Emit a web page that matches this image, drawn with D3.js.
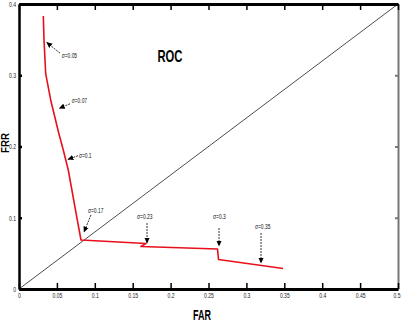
<!DOCTYPE html>
<html>
<head>
<meta charset="utf-8">
<script src="https://cdn.jsdelivr.net/npm/d3@7"></script>
<style>
  body { margin: 0; background: #fff; }
  svg { display: block; }
  text { font-family: "Liberation Sans", Arial, sans-serif; }
</style>
</head>
<body>
<svg id="chart" width="402" height="323"></svg>
<script>
// ROC curve
const farValues = [0.0321, 0.0330, 0.0352, 0.0418, 0.0524, 0.0584, 0.0650, 0.0761, 0.0818, 0.1675, 0.1609, 0.2619, 0.2632, 0.3483];
const frrValues = [0.3832, 0.3495, 0.3022, 0.2653, 0.2189, 0.1951, 0.1670, 0.1015, 0.0688, 0.0639, 0.0596, 0.0561, 0.0414, 0.0288];

// sigma annotations: text anchor and arrow start/end, in data units
const sigmaLabels = ["σ=0.05", "σ=0.07", "σ=0.1", "σ=0.17", "σ=0.23", "σ=0.3", "σ=0.35"];
const labelX = [0.0563, 0.0695, 0.0790, 0.0910, 0.1557, 0.2560, 0.3113];
const labelY = [0.3240, 0.2610, 0.1840, 0.1070, 0.0980, 0.0980, 0.0842];
const arrowX1 = [0.0541, 0.0673, 0.0778, 0.0950, 0.1689, 0.2639, 0.3193];
const arrowY1 = [0.3310, 0.2600, 0.1870, 0.1040, 0.0926, 0.0856, 0.0786];
const arrowX2 = [0.0366, 0.0532, 0.0646, 0.0858, 0.1689, 0.2639, 0.3193];
const arrowY2 = [0.3460, 0.2536, 0.1820, 0.0800, 0.0646, 0.0604, 0.0365];

const xTicks = [0, 0.05, 0.1, 0.15, 0.2, 0.25, 0.3, 0.35, 0.4, 0.45, 0.5];
const xTickLabels = ["0", "0.05", "0.1", "0.15", "0.2", "0.25", "0.3", "0.35", "0.4", "0.45", "0.5"];
const yTicks = [0, 0.1, 0.2, 0.3, 0.4];
const yTickLabels = ["0", "0.1", "0.2", "0.3", "0.4"];

const svg = d3.select("#chart");
const plotLeft = 19, plotRight = 398, plotTop = 4, plotBottom = 289;

const x = d3.scaleLinear().domain([0, 0.5]).range([plotLeft, plotRight]);
const y = d3.scaleLinear().domain([0, 0.4]).range([plotBottom, plotTop]);

// squeeze small labels to look like a narrow font
function narrow(sel, k) {
    sel.each(function () {
        const w = this.getComputedTextLength();
        d3.select(this).attr("textLength", w * k).attr("lengthAdjust", "spacingAndGlyphs");
    });
}

// diagonal reference line
svg.append("line")
    .attr("x1", x(0)).attr("y1", y(0))
    .attr("x2", x(0.5)).attr("y2", y(0.4))
    .attr("stroke", "#000")
    .attr("stroke-width", 0.7);

// right axis (grey)
const rightAxis = svg.append("g")
    .attr("transform", `translate(${plotRight},0)`)
    .call(d3.axisRight(y).tickValues(yTicks).tickSize(-3).tickSizeOuter(0).tickFormat(""));
rightAxis.selectAll("path, line").attr("stroke", "#777").attr("stroke-width", 2);

// top axis
const topAxis = svg.append("g")
    .attr("transform", `translate(0,${plotTop})`)
    .call(d3.axisTop(x).tickValues(xTicks).tickSize(-6).tickSizeOuter(0).tickFormat(""));
topAxis.select(".domain").attr("stroke-width", 3);
topAxis.selectAll(".tick line").attr("stroke-width", 1.5);

// left axis
const leftAxis = svg.append("g")
    .attr("transform", `translate(${plotLeft},0)`)
    .call(d3.axisLeft(y).tickValues(yTicks).tickSize(-3).tickSizeOuter(0).tickPadding(3)
        .tickFormat((d, i) => yTickLabels[i]));
leftAxis.select(".domain").attr("stroke-width", 2.5);
leftAxis.selectAll(".tick line").attr("stroke-width", 2.5);
leftAxis.selectAll(".tick text")
    .attr("font-size", 7).attr("fill", "#222")
    .call(narrow, 0.72);

// bottom axis
const bottomAxis = svg.append("g")
    .attr("transform", `translate(0,${plotBottom})`)
    .call(d3.axisBottom(x).tickValues(xTicks).tickSize(-6).tickSizeOuter(0).tickPadding(4)
        .tickFormat((d, i) => xTickLabels[i]));
bottomAxis.select(".domain").attr("stroke-width", 3);
bottomAxis.selectAll(".tick line").attr("stroke-width", 1.5);
bottomAxis.selectAll(".tick text")
    .attr("font-size", 7).attr("fill", "#222")
    .call(narrow, 0.72);
// last label sits on the window edge
bottomAxis.selectAll(".tick text").filter((d, i) => i === xTicks.length - 1).attr("dx", -1.5);

// ROC curve
const rocPoints = farValues.map((v, i) => [v, frrValues[i]]);
svg.append("path")
    .datum(rocPoints)
    .attr("fill", "none")
    .attr("stroke", "#e8101c")
    .attr("stroke-width", 1.6)
    .attr("stroke-linejoin", "round")
    .attr("d", d3.line().x(d => x(d[0])).y(d => y(d[1])));

// arrow marker
svg.append("defs")
    .append("marker")
    .attr("id", "arrow")
    .attr("viewBox", [0, 0, 10, 10])
    .attr("refX", 9)
    .attr("refY", 5)
    .attr("markerWidth", 6)
    .attr("markerHeight", 6)
    .attr("markerUnits", "userSpaceOnUse")
    .attr("orient", "auto")
    .append("path")
    .attr("d", d3.line()([[0, 0.5], [10, 5], [0, 9.5]]))
    .attr("fill", "#000");

const notes = sigmaLabels.map((t, i) => ({
    text: t, tx: labelX[i], ty: labelY[i],
    x1: arrowX1[i], y1: arrowY1[i], x2: arrowX2[i], y2: arrowY2[i]
}));

const note = svg.append("g").selectAll("g")
    .data(notes)
    .join("g");

note.append("line")
    .attr("x1", d => x(d.x1)).attr("y1", d => y(d.y1))
    .attr("x2", d => x(d.x2)).attr("y2", d => y(d.y2))
    .attr("stroke", "#000")
    .attr("stroke-width", 0.8)
    .attr("stroke-dasharray", "2,1")
    .attr("marker-end", "url(#arrow)");

note.append("text")
    .attr("x", d => x(d.tx))
    .attr("y", d => y(d.ty))
    .attr("font-size", 7)
    .attr("fill", "#111")
    .text(d => d.text)
    .call(narrow, 0.7);

// titles
svg.append("text")
    .attr("x", 170).attr("y", 62)
    .attr("text-anchor", "middle")
    .attr("font-weight", "bold")
    .attr("font-size", 17)
    .attr("textLength", 25)
    .attr("lengthAdjust", "spacingAndGlyphs")
    .text("ROC");

svg.append("text")
    .attr("x", 202).attr("y", 320)
    .attr("text-anchor", "middle")
    .attr("font-weight", "bold")
    .attr("font-size", 14)
    .attr("textLength", 18)
    .attr("lengthAdjust", "spacingAndGlyphs")
    .text("FAR");

svg.append("text")
    .attr("transform", "translate(8.5,143) rotate(-90)")
    .attr("text-anchor", "middle")
    .attr("font-weight", "bold")
    .attr("font-size", 10)
    .attr("textLength", 20)
    .attr("lengthAdjust", "spacingAndGlyphs")
    .text("FRR");
</script>
</body>
</html>
